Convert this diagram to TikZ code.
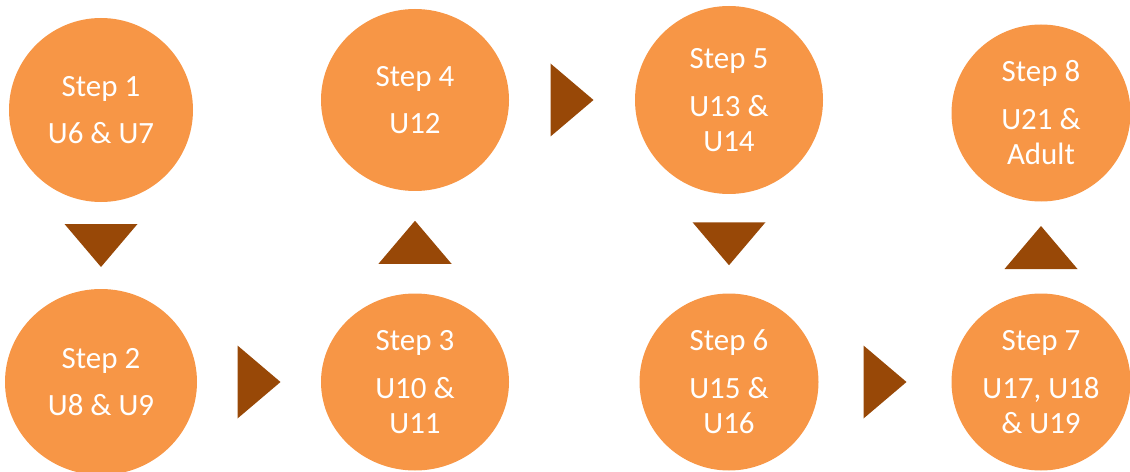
\documentclass[tikz,border=0pt]{standalone}
\usepackage{fontspec}
\setmainfont{Carlito}
\usetikzlibrary{shapes.geometric,calc}
\definecolor{stepfill}{HTML}{F79646}
\definecolor{arrowfill}{HTML}{984807}
\newcommand{\px}{0.025cm}

\begin{document}
\begin{tikzpicture}[x=\px, y=-\px,
  stepnode/.style={ellipse, fill=stepfill, text=white, align=center, inner sep=0pt,
    font=\fontsize{22}{25}\selectfont},
  tri/.pic={\fill[arrowfill] (-21.5,-36.5) -- (21.5,0) -- (-21.5,36.5) -- cycle;}
]
\useasboundingbox (0,0) rectangle (1130,472);

% Steps, top row and bottom row
\node[stepnode, minimum width=184*\px, minimum height=184*\px] (s1) at (101,110) {Step 1\\[9pt]U6 \& U7};
\node[stepnode, minimum width=192*\px, minimum height=186*\px] (s2) at (101,382) {Step 2\\[9pt]U8 \& U9};
\node[stepnode, minimum width=188*\px, minimum height=177*\px] (s3) at (415,382) {Step 3\\[9pt]U10 \&\\U11};
\node[stepnode, minimum width=188*\px, minimum height=182*\px] (s4) at (415,100) {Step 4\\[9pt]U12};
\node[stepnode, minimum width=188*\px, minimum height=188*\px] (s5) at (729,100) {Step 5\\[9pt]U13 \&\\U14};
\node[stepnode, minimum width=179*\px, minimum height=177*\px] (s6) at (729,382) {Step 6\\[9pt]U15 \&\\U16};
\node[stepnode, minimum width=179*\px, minimum height=177*\px] (s7) at (1041,382) {Step 7\\[9pt]U17, U18\\\& U19};
\node[stepnode, minimum width=179*\px, minimum height=177*\px] (s8) at (1041,113) {Step 8\\[9pt]U21 \&\\Adult};

% Arrow heads between steps
\pic[rotate=-90] at ($(s1.south)!0.5!(s2.north)$) {tri};
\pic at ($(s2.east)!0.5!(s3.west)$) {tri};
\pic[rotate=90] at ($(s3.north)!0.5!(s4.south)$) {tri};
\pic at ($(s4.east)!0.5!(s5.west)$) {tri};
\pic[rotate=-90] at ($(s5.south)!0.5!(s6.north)$) {tri};
\pic at ($(s6.east)!0.5!(s7.west)$) {tri};
\pic[rotate=90] at ($(s7.north)!0.5!(s8.south)$) {tri};

\end{tikzpicture}
\end{document}
